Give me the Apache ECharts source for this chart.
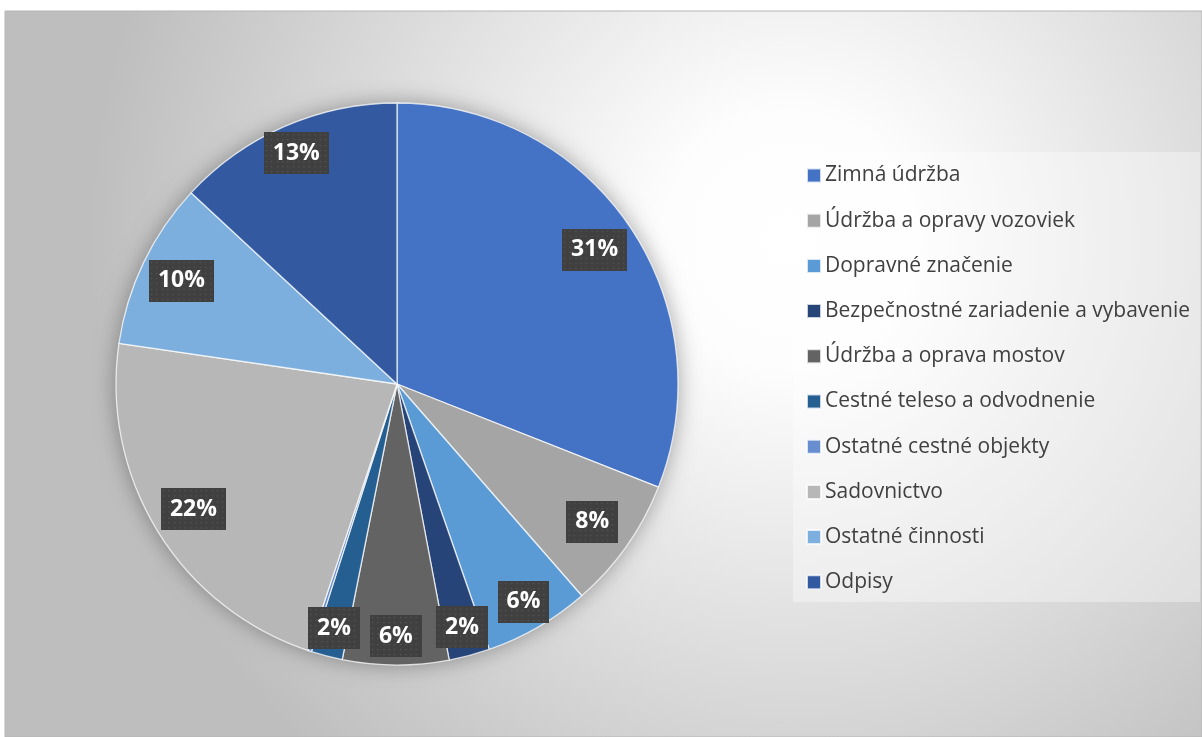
<!DOCTYPE html>
<html><head><meta charset="utf-8">
<script src="https://cdn.jsdelivr.net/npm/echarts@6/dist/echarts.min.js"></script>
<style>html,body{margin:0;padding:0;background:#fff}#c{width:1202px;height:737px}</style>
</head><body><div id="c"></div>
<script>
const categories = ['Zimná údržba','Údržba a opravy vozoviek','Dopravné značenie','Bezpečnostné zariadenie a vybavenie','Údržba a oprava mostov','Cestné teleso a odvodnenie','Ostatné cestné objekty','Sadovnictvo','Ostatné činnosti','Odpisy'];
const values = [31.0, 7.6, 6.1, 2.35, 6.1, 1.8, 0.2, 22.2, 9.6, 13.1];
const colors = ['#4472c4','#a5a5a5','#5b9bd5','#264478','#636363','#255e91','#698ed0','#b7b7b7','#7cafdd','#335aa1'];

function dotted(w, h){
  const cv = document.createElement('canvas'); cv.width = w; cv.height = h;
  const g = cv.getContext('2d');
  g.fillStyle = '#404040'; g.fillRect(0,0,w,h);
  g.fillStyle = '#585858';
  for (let y = 2; y < h; y += 5.3) for (let x = 2; x < w; x += 5.3) g.fillRect(Math.round(x), Math.round(y), 1.3, 1.3);
  return cv;
}
const bgBig = dotted(64, 42), bgSmall = dotted(50, 42);

const chart = echarts.init(document.getElementById('c'), null, {renderer:'canvas'});
const C = [397, 384], R = 281;
const outerIdx = new Set([2,3,4,5,9]);
const total = values.reduce((a,b)=>a+b,0);
const data = categories.map((n,i)=>({name:n, value:values[i], itemStyle:{color:colors[i]}}));
const labelStyle = {
  position:'inside', color:'#fff', fontFamily:'Open Sans', fontWeight:'bold', fontSize:23, lineHeight:24,
  padding:[9,9,9,9],
  shadowColor:'rgba(0,0,0,0.45)', shadowBlur:6, shadowOffsetX:3, shadowOffsetY:3,
  formatter:p=>Math.round(p.percent)+'%'
};
function overlay(r0, pred){
  return {type:'pie', center:C, radius:[r0,R], silent:true, z:5, animation:false, startAngle:90,
    itemStyle:{color:'rgba(0,0,0,0)', borderWidth:0}, labelLine:{show:false}, emphasis:{disabled:true},
    data:data.map((d,i)=>{
      const pct = Math.round(values[i]/total*100);
      return {name:d.name, value:d.value, itemStyle:{color:'rgba(0,0,0,0)'},
        label:Object.assign({}, labelStyle, {show: pred(i) && pct>0, backgroundColor:{image: pct>=10 ? bgBig : bgSmall}})};
    })
  };
}
chart.setOption({
  animation:false,
  graphic:[
    {type:'rect', z:-10, shape:{x:5,y:11,width:1197,height:726},
     style:{fill:new echarts.graphic.RadialGradient(790,240,700,[{offset:0,color:'#ffffff'},{offset:0.18,color:'#fdfdfd'},{offset:1,color:'#bebebe'}],true),
       stroke:'#b5b5b5', lineWidth:1}},
    {type:'rect', z:-9, shape:{x:793,y:152,width:407,height:450}, style:{fill:'rgba(255,255,255,0.35)'}}
  ],
  legend:{orient:'vertical', left:793, top:152, padding:[13,10,12,13], itemWidth:14, itemHeight:14, itemGap:24.2,
    icon:'rect', selectedMode:false, data:categories,
    textStyle:{fontFamily:'Open Sans', fontSize:21, lineHeight:20, color:'#404040', padding:[0,0,0,-1]}},
  series:[
    {type:'pie', center:C, radius:R, silent:true, z:1, startAngle:90, label:{show:false}, labelLine:{show:false},
     itemStyle:{color:'#999', shadowBlur:22, shadowColor:'rgba(0,0,0,0.35)'}, data:[{name:'_bg', value:1}]},
    {type:'pie', center:C, radius:R, z:2, startAngle:90, clockwise:true, label:{show:false}, labelLine:{show:false},
     itemStyle:{borderColor:'rgba(255,255,255,0.75)', borderWidth:1.3}, emphasis:{disabled:true}, data:data},
    overlay(191, i=>!outerIdx.has(i)),
    overlay(217, i=>outerIdx.has(i))
  ]
});
</script></body></html>
